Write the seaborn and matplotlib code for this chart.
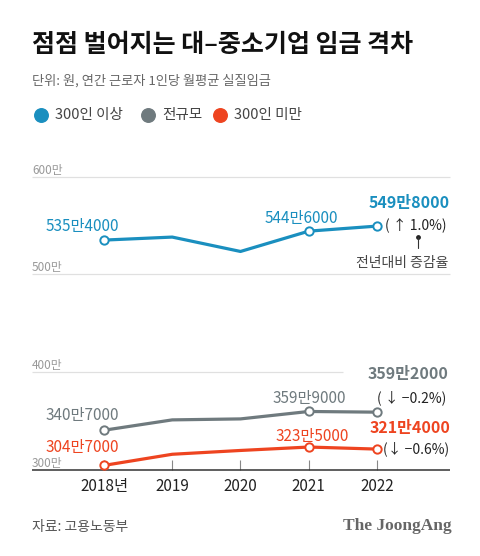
import matplotlib
matplotlib.use("Agg")
import matplotlib.pyplot as plt
import seaborn as sns
import pandas as pd

# ---- data ----
years = [2018, 2019, 2020, 2021, 2022]
year_labels = ["2018년", "2019", "2020", "2021", "2022"]
series_names = ["300인 이상", "전규모", "300인 미만"]
large = [535.4, 538.5, 523.7, 544.6, 549.8]   # 만원
total = [340.7, 351.3, 352.3, 359.9, 359.2]
small = [304.7, 316.1, 320.0, 323.5, 321.4]
large_labels = {2018: "535만4000", 2021: "544만6000", 2022: "549만8000"}
total_labels = {2018: "340만7000", 2021: "359만9000", 2022: "359만2000"}
small_labels = {2018: "304만7000", 2021: "323만5000", 2022: "321만4000"}
changes = ["( ↑ 1.0%)", "( ↓ −0.2%)", "(↓ −0.6%)"]
top_ticks = [500, 600]
bottom_ticks = [300, 400]

C_LARGE = "#1a8fbf"
C_TOTAL = "#6f7a7e"
C_SMALL = "#ee4420"

sns.set_theme(style="white")
plt.rcParams["font.family"] = ["Noto Sans CJK KR", "DejaVu Sans"]

W, H = 480, 556
fig = plt.figure(figsize=(W / 100, H / 100), dpi=100)
fig.patch.set_facecolor("white")


def fx(px):
    return px / W


def fy(py):
    return 1 - py / H


AX_L, AX_R = 32, 450
x0, x1 = 2016.945, 2023.07

ax_top = fig.add_axes([fx(AX_L), fy(274.5), fx(AX_R - AX_L), (274.5 - 177.3) / H])
ax_bot = fig.add_axes([fx(AX_L), fy(470), fx(AX_R - AX_L), (470 - 372.3) / H])

df_top = pd.DataFrame({"year": years, "value": large, "group": series_names[0]})
df_bot = pd.concat([
    pd.DataFrame({"year": years, "value": total, "group": series_names[1]}),
    pd.DataFrame({"year": years, "value": small, "group": series_names[2]}),
])
palette = {series_names[0]: C_LARGE, series_names[1]: C_TOTAL, series_names[2]: C_SMALL}

for ax in (ax_top, ax_bot):
    ax.set_facecolor("none")
    ax.set_xlim(x0, x1)
    for s in ax.spines.values():
        s.set_visible(False)
    ax.grid(False)

ax_top.set_ylim(500, 600)
ax_bot.set_ylim(300, 400)

# grid lines
for v in top_ticks:
    ax_top.axhline(v, color="#e0e0e0", lw=0.9, zorder=0)
ax_bot.axhline(bottom_ticks[1], xmax=(343 - AX_L) / (AX_R - AX_L), color="#e0e0e0", lw=0.9, zorder=0)
ax_bot.axhline(bottom_ticks[0], color="#333333", lw=1.1, zorder=1)

sns.lineplot(data=df_top, x="year", y="value", hue="group", palette=palette,
             ax=ax_top, legend=False, linewidth=2.3)
sns.lineplot(data=df_bot, x="year", y="value", hue="group", palette=palette,
             ax=ax_bot, legend=False, linewidth=2.3)
for ln in ax_top.lines + ax_bot.lines:
    ln.set_clip_on(False)
    ln.set_solid_capstyle("butt")

for ax in (ax_top, ax_bot):
    ax.set_xlabel("")
    ax.set_ylabel("")

# open markers
for ax, vals, labs, col in ((ax_top, large, large_labels, C_LARGE),
                            (ax_bot, total, total_labels, C_TOTAL),
                            (ax_bot, small, small_labels, C_SMALL)):
    mx = [y for y in years if y in labs]
    my = [vals[years.index(y)] for y in mx]
    ax.plot(mx, my, "o", ms=6, mfc="white", mec=col, mew=1.4, clip_on=False, zorder=5)

# y labels
for ax, ticks in ((ax_top, top_ticks), (ax_bot, bottom_ticks)):
    for v in ticks:
        ax.annotate(f"{v}만", xy=(0, v), xycoords=("axes fraction", "data"),
                    xytext=(0, 7), textcoords="offset pixels", ha="left", va="center",
                    fontsize=8.5, color="#999999")

# x ticks
ax_top.set_xticks([])
ax_top.set_yticks([])
ax_bot.set_yticks([])
ax_bot.set_xticks(years)
ax_bot.set_xticklabels(year_labels, fontsize=11, color="#222222")
ax_bot.tick_params(axis="x", direction="in", length=7, width=0.8, color="#888888", pad=6, bottom=True)


def lab(ax, year, vals, text, dx, dy, color, bold=False, size=11, ha="center"):
    y = vals[years.index(year)]
    ax.annotate(text, xy=(year, y), xytext=(dx, dy), textcoords="offset pixels",
                ha=ha, va="center", fontsize=size, color=color,
                fontweight="bold" if bold else "normal", annotation_clip=False)


# data labels
lab(ax_top, 2018, large, large_labels[2018], -22, 14, C_LARGE)
lab(ax_top, 2021, large, large_labels[2021], -7, 13, C_LARGE)
lab(ax_top, 2022, large, large_labels[2022], 32, 23, C_LARGE, bold=True, size=11.5)
lab(ax_top, 2022, large, changes[0], 8, 0, "#222222", ha="left", size=10)

lab(ax_bot, 2018, total, total_labels[2018], -22, 15, C_TOTAL)
lab(ax_bot, 2021, total, total_labels[2021], 1, 12.5, C_TOTAL)
lab(ax_bot, 2022, total, total_labels[2022], 31, 38, C_TOTAL, bold=True, size=11.5)
lab(ax_bot, 2022, total, changes[1], 0, 14, "#222222", ha="left", size=10)

lab(ax_bot, 2018, small, small_labels[2018], -22, 18, C_SMALL)
lab(ax_bot, 2021, small, small_labels[2021], 3, 11, C_SMALL)
lab(ax_bot, 2022, small, small_labels[2022], 33, 21, C_SMALL, bold=True, size=11.5)
lab(ax_bot, 2022, small, changes[2], 6, 0, "#222222", ha="left", size=10)

# overlay for titles / legend / footer
ov = fig.add_axes([0, 0, 1, 1])
ov.set_xlim(0, W)
ov.set_ylim(H, 0)
ov.axis("off")
ov.patch.set_alpha(0)

ov.text(32, 45, "점점 벌어지는 대–중소기업 임금 격차", fontsize=18, fontweight="bold",
        color="#111111", ha="left", va="center")
ov.text(32, 81, "단위: 원, 연간 근로자 1인당 월평균 실질임금", fontsize=9.5,
        color="#666666", ha="left", va="center")

leg_x = [41, 148, 220]
for name, col, lx in zip(series_names, [C_LARGE, C_TOTAL, C_SMALL], leg_x):
    ov.scatter([lx], [115], s=95, color=col, zorder=3)
    ov.text(lx + 14, 115, name, fontsize=10.5, color="#444444", ha="left", va="center")

# annotation pointer
ov.plot([418, 418], [237, 248], color="#333333", lw=0.8)
ov.scatter([418], [237], s=6, color="#222222")
ov.text(402, 263, "전년대비 증감율", fontsize=10, color="#444444", ha="center", va="center")

ov.text(32, 527, "자료: 고용노동부", fontsize=10, color="#555555", ha="left", va="center")
ov.text(452, 526, "The JoongAng", fontsize=12.5, fontweight="bold", color="#666666",
        ha="right", va="center", family=["Liberation Serif", "DejaVu Serif"])

fig.savefig("out.png", dpi=100, facecolor="white")
